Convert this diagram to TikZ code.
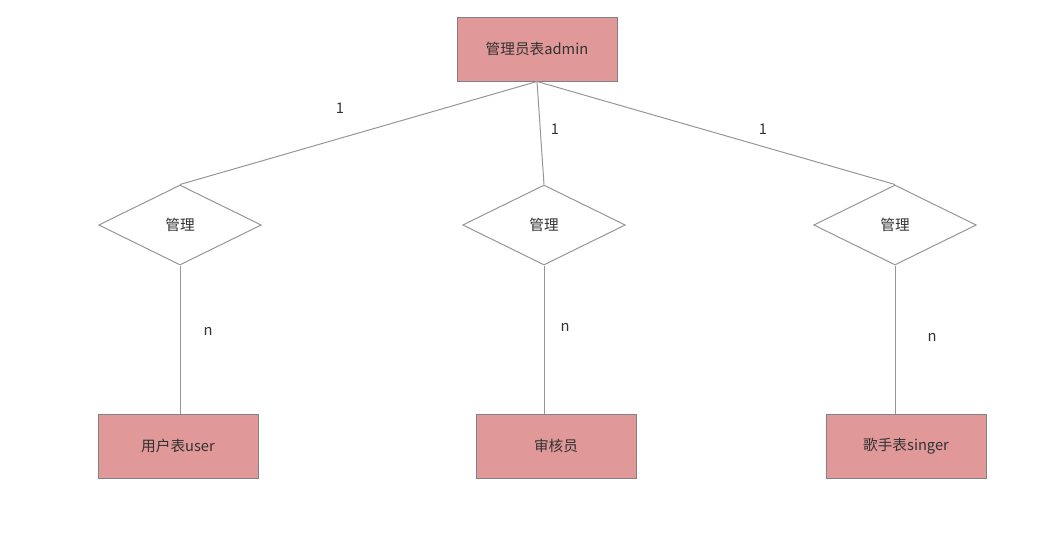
\documentclass[tikz,border=0pt]{standalone}
\usepackage{fontspec}
\setmainfont{Noto Sans CJK SC}
\usetikzlibrary{shapes.geometric}
\definecolor{entfill}{RGB}{224,152,152}
\definecolor{entborder}{RGB}{130,130,130}
\definecolor{linec}{RGB}{150,150,150}
\definecolor{txt}{RGB}{50,50,50}
\begin{document}
\begin{tikzpicture}[x=0.75pt,y=-0.75pt,
  every node/.style={font=\fontsize{11}{13}\selectfont, text=txt},
  entity/.style={draw=entborder, fill=entfill, line width=0.75pt, minimum width=120pt, minimum height=48pt, inner sep=0pt},
  rel/.style={draw=linec, diamond, fill=white, line width=0.75pt, minimum width=122pt, minimum height=60pt, inner sep=0pt},
  conn/.style={draw=linec, line width=0.75pt},
  card/.style={font=\fontsize{11}{13}\selectfont}]
\useasboundingbox (0,0) rectangle (1054,533);
\node[entity] (admin) at (537,49) {\raisebox{-1pt}{管理员表admin}};
\node[rel] (r1) at (180,225) {\raisebox{-1pt}{管理}};
\node[rel] (r2) at (544,225) {\raisebox{-1pt}{管理}};
\node[rel] (r3) at (895,225) {\raisebox{-1pt}{管理}};
\node[entity] (user) at (178,446) {\raisebox{-1pt}{用户表user}};
\node[entity] (aud) at (556,446) {\raisebox{-1pt}{审核员}};
\node[entity] (sing) at (906,446) {\raisebox{-1pt}{歌手表singer}};
\draw[conn] (admin.south) -- (r1.north);
\draw[conn] (admin.south) -- (r2.north);
\draw[conn] (admin.south) -- (r3.north);
\draw[conn] (r1.south) -- (r1.south |- user.north);
\draw[conn] (r2.south) -- (r2.south |- aud.north);
\draw[conn] (r3.south) -- (r3.south |- sing.north);
\node[card] (c1) at (340,108) {1};
\node[card] (c2) at (555,129) {1};
\node[card] (c3) at (763,129) {1};
\node[card] (n1) at (208,331) {n};
\node[card] (n2) at (565,327) {n};
\node[card] (n3) at (932,337) {n};
\end{tikzpicture}
\end{document}
